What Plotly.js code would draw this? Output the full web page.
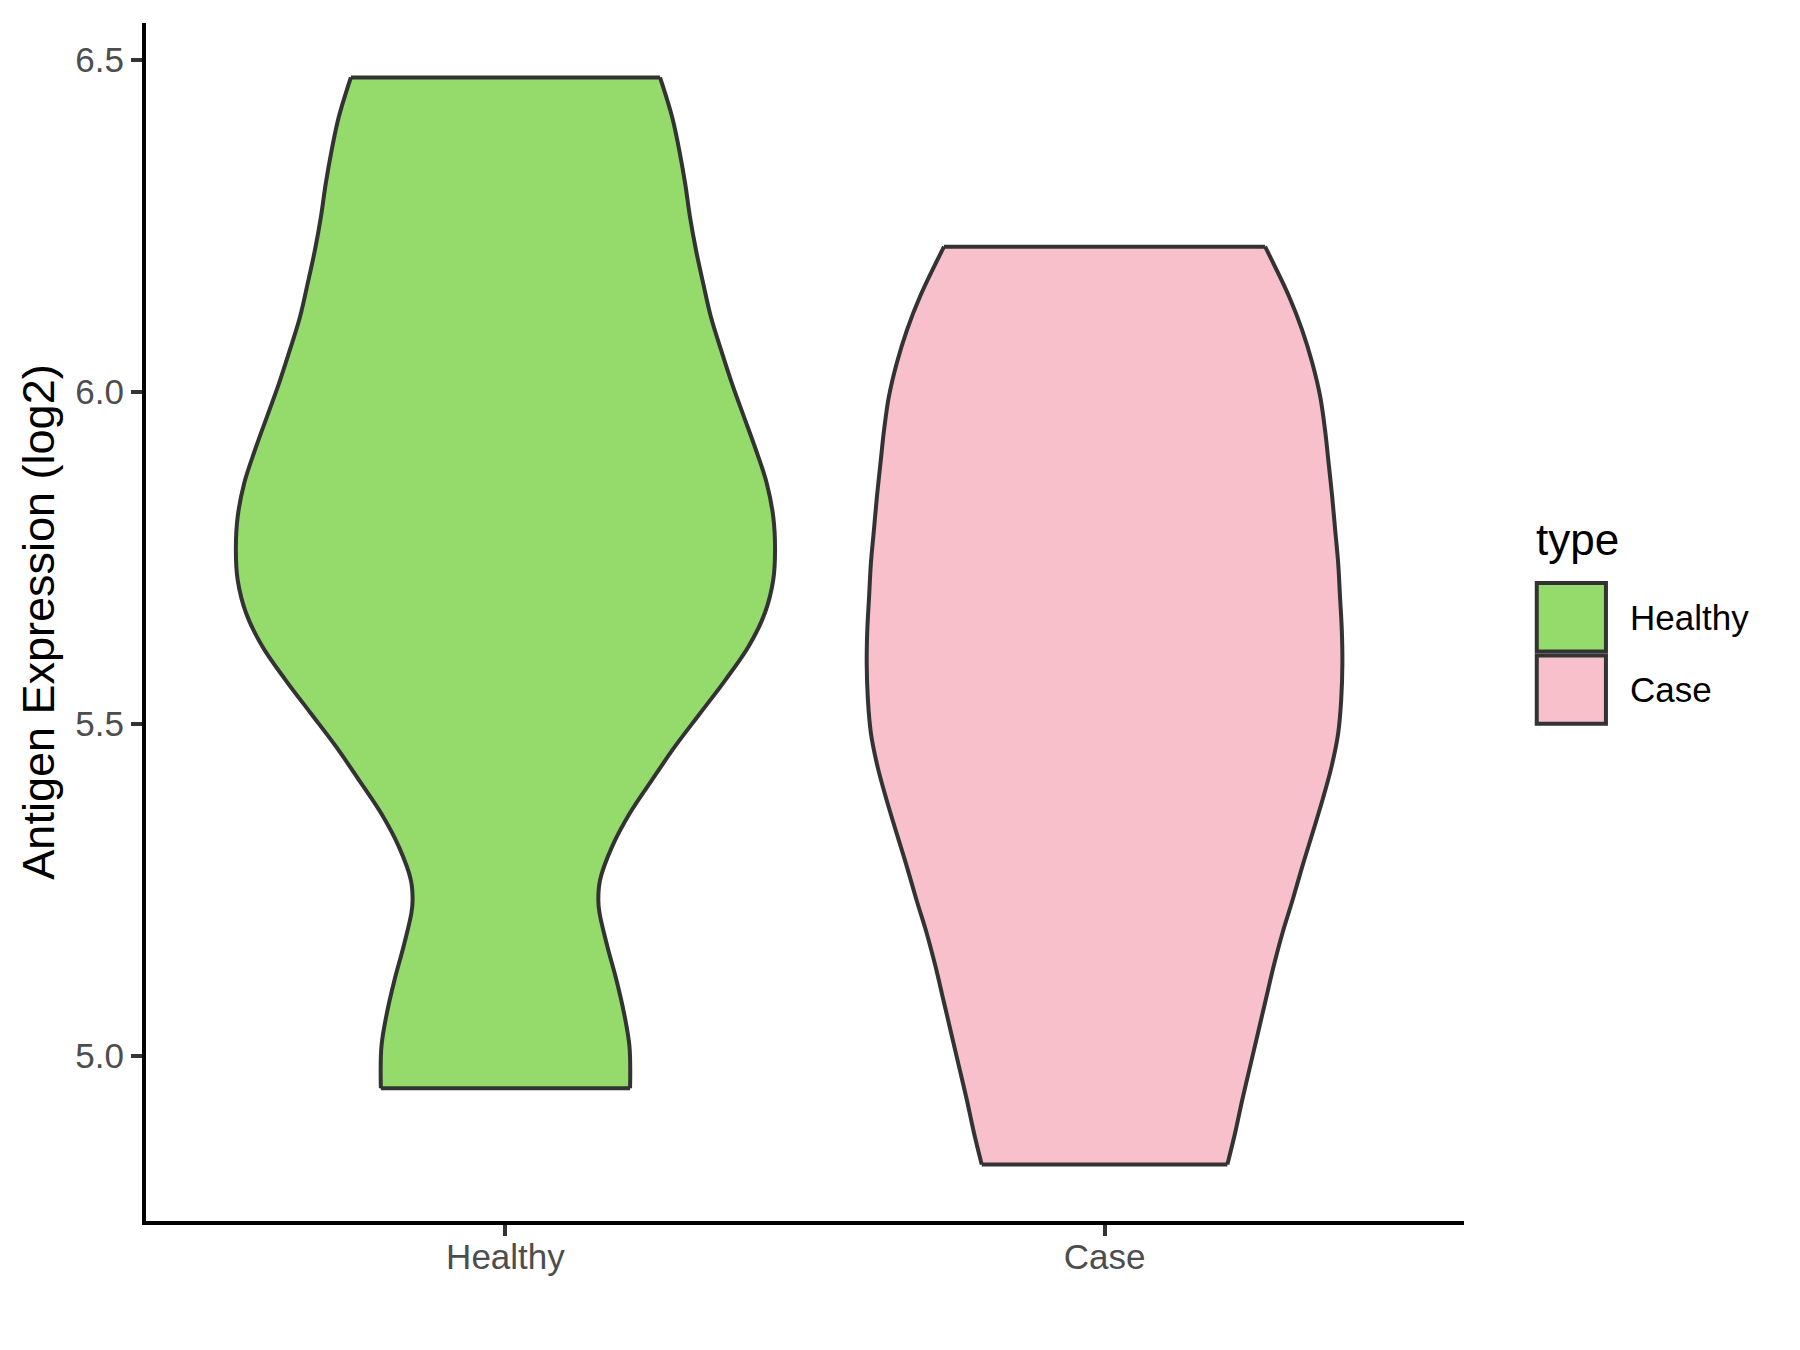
<!DOCTYPE html>
<html>
<head>
<meta charset="utf-8">
<script src="https://cdn.plot.ly/plotly-3.0.1.min.js"></script>
<style>html,body{margin:0;padding:0;background:#fff;}#chart{width:1800px;height:1350px;}</style>
</head>
<body>
<div id="chart"></div>
<script>
// ---- data ----
const categories = ['Healthy', 'Case'];
const fillColors = ['#94DB6B', '#F7C0CB'];

// density outline: expression level (log2) and half-width of violin (x units)
const healthyY = [4.951, 5.014, 5.064, 5.115, 5.165, 5.215, 5.235, 5.265, 5.315, 5.366, 5.416, 5.466, 5.516, 5.566, 5.617, 5.667, 5.717, 5.762, 5.812, 5.863, 5.913, 5.963, 6.013, 6.063, 6.113, 6.164, 6.214, 6.264, 6.314, 6.365, 6.415, 6.474];
const healthyHalfWidth = [0.208, 0.207, 0.198, 0.185, 0.170, 0.157, 0.155, 0.158, 0.178, 0.208, 0.245, 0.283, 0.325, 0.367, 0.406, 0.433, 0.447, 0.450, 0.447, 0.436, 0.418, 0.398, 0.378, 0.360, 0.343, 0.330, 0.318, 0.308, 0.300, 0.290, 0.278, 0.258];

const caseY = [4.836, 4.884, 4.934, 4.984, 5.034, 5.084, 5.134, 5.185, 5.235, 5.285, 5.335, 5.386, 5.436, 5.486, 5.536, 5.591, 5.642, 5.692, 5.742, 5.792, 5.842, 5.893, 5.943, 5.993, 6.043, 6.093, 6.144, 6.219];
const caseHalfWidth = [0.205, 0.218, 0.230, 0.243, 0.256, 0.269, 0.282, 0.297, 0.314, 0.330, 0.347, 0.364, 0.379, 0.390, 0.395, 0.397, 0.396, 0.393, 0.390, 0.385, 0.380, 0.374, 0.368, 0.360, 0.347, 0.330, 0.308, 0.268];

const yTicks = [5.0, 5.5, 6.0, 6.5];
const yTickText = ['5.0', '5.5', '6.0', '6.5'];
const yTitle = 'Antigen Expression (log2)';
const legendTitle = 'type';

// ---- build violin outlines ----
const outlineColor = '#333333';
const outlineWidth = 4;
const outlines = [[healthyY, healthyHalfWidth], [caseY, caseHalfWidth]];
const traces = [];
outlines.forEach(([ys, hw], i) => {
  const pos = i + 1;
  const n = ys.length;
  const leftX = ys.map((y, j) => pos - hw[j]);
  const rightX = ys.map((y, j) => pos + hw[j]);
  // filled body
  const fx = leftX.concat(rightX.slice().reverse(), [leftX[0]]);
  const fy = ys.concat(ys.slice().reverse(), [ys[0]]);
  traces.push({
    type: 'scatter', mode: 'lines', x: fx, y: fy,
    fill: 'toself', fillcolor: fillColors[i],
    line: {color: fillColors[i], width: 0.5},
    name: categories[i], showlegend: false, hoverinfo: 'skip'
  });
  // smooth sides
  [leftX, rightX].forEach(sx => traces.push({
    type: 'scatter', mode: 'lines', x: sx, y: ys,
    line: {color: outlineColor, width: outlineWidth, shape: 'spline', smoothing: 1},
    showlegend: false, hoverinfo: 'skip'
  }));
  // flat top and bottom
  traces.push({
    type: 'scatter', mode: 'lines',
    x: [leftX[0], rightX[0], null, leftX[n - 1], rightX[n - 1]],
    y: [ys[0], ys[0], null, ys[n - 1], ys[n - 1]],
    line: {color: outlineColor, width: outlineWidth},
    showlegend: false, hoverinfo: 'skip'
  });
});

const font = 'Liberation Sans, Arial, Helvetica, sans-serif';

// legend drawn as keys in paper space
const keyY = [[0.4754, 0.5325], [0.4151, 0.4721]];
const labelY = [0.5036, 0.4435];
const shapes = categories.map((c, i) => ({
  type: 'rect', xref: 'paper', yref: 'paper',
  x0: 1.0552, x1: 1.1077, y0: keyY[i][0], y1: keyY[i][1],
  fillcolor: fillColors[i], line: {color: outlineColor, width: 4}
}));
const annotations = categories.map((c, i) => ({
  text: c, xref: 'paper', yref: 'paper', x: 1.1245, y: labelY[i],
  xanchor: 'left', yanchor: 'middle', showarrow: false,
  font: {family: font, size: 35, color: '#000000'}
}));
annotations.push({
  text: legendTitle, xref: 'paper', yref: 'paper', x: 1.053, y: 0.5686,
  xanchor: 'left', yanchor: 'middle', showarrow: false,
  font: {family: font, size: 44, color: '#000000'}
});

const layout = {
  width: 1800, height: 1350,
  margin: {l: 146, r: 336, t: 23, b: 128.5},
  paper_bgcolor: '#ffffff', plot_bgcolor: '#ffffff',
  showlegend: false,
  xaxis: {
    range: [0.4, 2.6], tickvals: categories.map((c, i) => i + 1), ticktext: categories,
    showgrid: false, zeroline: false, showline: true, linecolor: '#000000', linewidth: 4,
    ticks: 'outside', ticklen: 11, tickwidth: 4, tickcolor: '#333333',
    ticklabelstandoff: -9,
    tickfont: {family: font, size: 35, color: '#4D4D4D'}
  },
  yaxis: {
    range: [4.751, 6.556], tickvals: yTicks, ticktext: yTickText,
    showgrid: false, zeroline: false, showline: true, linecolor: '#000000', linewidth: 4,
    ticks: 'outside', ticklen: 11, tickwidth: 4, tickcolor: '#333333',
    tickfont: {family: font, size: 35, color: '#4D4D4D'},
    title: {text: yTitle, font: {family: font, size: 45, color: '#000000'}, standoff: 8}
  },
  shapes: shapes,
  annotations: annotations
};

Plotly.newPlot('chart', traces, layout, {displayModeBar: false, staticPlot: true});
</script>
</body>
</html>
